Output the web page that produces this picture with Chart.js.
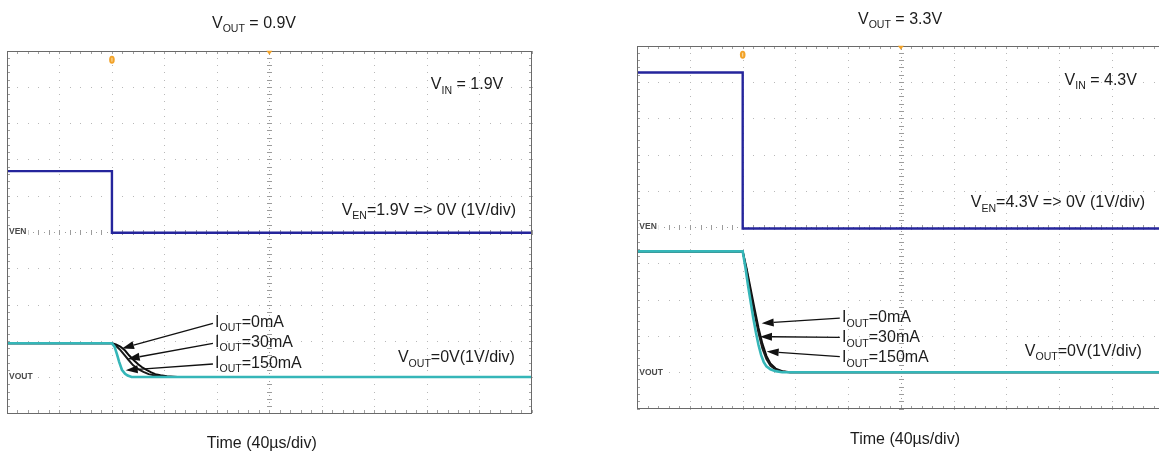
<!DOCTYPE html>
<html><head><meta charset="utf-8">
<script src="https://cdn.jsdelivr.net/npm/chart.js@4.4.0/dist/chart.umd.min.js"></script>
<style>
html,body{margin:0;padding:0;width:1159px;height:455px;overflow:hidden;background:#fff;}
.wrap{position:absolute;top:0;height:455px;width:560px;}
#wrapL{left:0;}
#wrapR{left:620px;}
</style></head><body>
<div class="wrap" id="wrapL"><canvas id="cL" width="560" height="455"></canvas></div>
<div class="wrap" id="wrapR"><canvas id="cR" width="560" height="455"></canvas></div>
<script>
// ---------- DATA (time in µs, 40 µs/div; voltages in V, 1 V/div) ----------
// Left panel: VOUT = 0.9V, VIN = 1.9V
const L_venT   = [0, 80, 80, 400];
const L_venV   = [1.68, 1.68, -0.02, -0.02];
const L_out0T  = [0, 80, 83, 86.4, 90, 93, 96.5, 100, 103, 106.7, 110, 113, 117, 122, 130, 400];
const L_out0V  = [0.93, 0.93, 0.90, 0.84, 0.73, 0.60, 0.47, 0.35, 0.27, 0.19, 0.13, 0.08, 0.05, 0.02, 0, 0];
const L_out30T = [0, 80, 83, 86, 89, 92.7, 96, 100, 104, 108, 113, 120, 400];
const L_out30V = [0.93, 0.93, 0.86, 0.76, 0.63, 0.47, 0.33, 0.22, 0.14, 0.08, 0.04, 0, 0];
const L_out150T = [0, 80, 82, 83.8, 85.5, 87.6, 90, 92, 95, 400];
const L_out150V = [0.93, 0.93, 0.84, 0.63, 0.42, 0.20, 0.09, 0.04, 0, 0];

// Right panel: VOUT = 3.3V, VIN = 4.3V
const R_venT   = [0, 80, 80, 400];
const R_venV   = [4.26, 4.26, -0.04, -0.04];
const R_out0T  = [0, 80, 83, 86, 89, 92, 95, 98, 101, 105, 110, 116, 400];
const R_out0V  = [3.33, 3.33, 2.85, 2.30, 1.75, 1.22, 0.78, 0.45, 0.24, 0.10, 0.03, 0, 0];
const R_out30T = [0, 80, 83, 86, 89, 92, 95, 98, 101, 105, 110, 115, 400];
const R_out30V = [3.33, 3.33, 2.80, 2.20, 1.62, 1.08, 0.65, 0.36, 0.18, 0.07, 0.02, 0, 0];
const R_out150T = [0, 80, 82, 84, 86, 88, 90, 92, 94, 96, 98, 101, 105, 110, 400];
const R_out150V = [3.33, 3.33, 2.90, 2.40, 1.95, 1.50, 1.10, 0.75, 0.47, 0.28, 0.16, 0.08, 0.03, 0, 0];

const venGroundDiv = 0;    // VEN ground marker (divisions)
const voutGroundDiv = -4;  // VOUT ground marker (divisions)

// ---------- RENDERING ----------
const FONT = '"Liberation Sans", Arial, Helvetica, sans-serif';

function xy(t, v, off) { return t.map((tt, i) => ({x: tt, y: v[i] + off})); }

function parseRich(s) {
  const out = []; const re = /_\{([^}]*)\}/g; let last = 0, m;
  while ((m = re.exec(s))) {
    if (m.index > last) out.push({t: s.slice(last, m.index), sub: false});
    out.push({t: m[1], sub: true}); last = re.lastIndex;
  }
  if (last < s.length) out.push({t: s.slice(last), sub: false});
  return out;
}
function richText(ctx, x, y, str, size, align) {
  const segs = parseRich(str);
  const sub = size * 0.66;
  let w = 0;
  const parts = segs.map(s => { ctx.font = (s.sub ? sub : size) + 'px ' + FONT; const m = ctx.measureText(s.t).width; w += m; return {s, m}; });
  let cx = align === 'right' ? x - w : align === 'center' ? x - w / 2 : x;
  ctx.textBaseline = 'alphabetic'; ctx.textAlign = 'left';
  for (const p of parts) {
    ctx.font = (p.s.sub ? sub : size) + 'px ' + FONT;
    ctx.fillText(p.s.t, cx, p.s.sub ? y + size * 0.28 : y);
    cx += p.m;
  }
}

const scopePlugin = {
  id: 'scope',
  beforeDatasetsDraw(chart, args, o) {
    const {ctx, chartArea: a, scales: {x, y}} = chart;
    const X = v => Math.round(x.getPixelForValue(v));
    const Y = v => Math.round(y.getPixelForValue(v));
    ctx.save();
    ctx.fillStyle = '#b8b8b8';
    for (let i = 1; i < 10; i++) {
      if (i === 5) continue;
      for (let k = -25; k <= 25; k++) ctx.fillRect(X(i * 40), Y(k * 0.2), 1, 1);
    }
    for (let j = -4; j <= 4; j++) {
      if (j === 0) continue;
      for (let k = 0; k <= 50; k++) ctx.fillRect(X(k * 8), Y(j), 1, 1);
    }
    // centre graticule with minor ticks
    ctx.fillStyle = '#9c9c9c';
    const cx = X(200), cy = Y(0);
    for (let k = -25; k <= 25; k++) { ctx.fillRect(cx - 2, Y(k * 0.2), 5, 1); }
    for (let k = -50; k <= 50; k++) ctx.fillRect(cx, Y(k * 0.1), 1, 1);
    for (let k = 0; k <= 50; k++) { ctx.fillRect(X(k * 8), cy - 2, 1, 5); }
    for (let k = 0; k <= 100; k++) ctx.fillRect(X(k * 4), cy, 1, 1);
    // edge ticks
    ctx.fillStyle = '#a0a0a0';
    for (let k = 0; k <= 50; k++) { ctx.fillRect(X(k * 8), Math.round(a.top), 1, 3); ctx.fillRect(X(k * 8), Math.round(a.bottom) - 3, 1, 3); }
    for (let k = -25; k <= 25; k++) { ctx.fillRect(Math.round(a.left), Y(k * 0.2), 3, 1); ctx.fillRect(Math.round(a.right) - 3, Y(k * 0.2), 3, 1); }
    // channel ground labels
    ctx.font = 'bold 8.5px ' + FONT; ctx.textBaseline = 'middle'; ctx.textAlign = 'left';
    for (const l of o.labels) {
      const ly = y.getPixelForValue(l.y);
      const w = ctx.measureText(l.text).width;
      ctx.fillStyle = '#fff'; ctx.fillRect(a.left + 1, ly - 5, w + 3, 10);
      ctx.fillStyle = '#4a4a4a'; ctx.fillText(l.text, a.left + 2, ly);
    }
    ctx.restore();
  },
  afterDatasetsDraw(chart, args, o) {
    const {ctx, chartArea: a, scales: {x, y}} = chart;
    const P = (vx, vy) => [x.getPixelForValue(vx), y.getPixelForValue(vy)];
    ctx.save();
    // frame
    ctx.strokeStyle = '#6a6a6a'; ctx.lineWidth = 1;
    ctx.strokeRect(Math.round(a.left) + 0.5, Math.round(a.top) + 0.5, Math.round(a.right - a.left) - 1, Math.round(a.bottom - a.top) - 1);
    // trigger markers
    const tx = x.getPixelForValue(o.trigger);
    ctx.fillStyle = '#f2a228';
    ctx.beginPath(); ctx.ellipse(tx, a.top + 9, 2.8, 4, 0, 0, Math.PI * 2); ctx.fill();
    ctx.fillStyle = '#fbe2b0'; ctx.fillRect(tx - 0.5, a.top + 7, 1, 4);
    const mx = x.getPixelForValue(200);
    ctx.fillStyle = '#f2a228';
    ctx.beginPath(); ctx.moveTo(mx - 3, a.top); ctx.lineTo(mx + 3, a.top); ctx.lineTo(mx, a.top + 4); ctx.closePath(); ctx.fill();
    // texts
    ctx.fillStyle = '#1c1c1c';
    for (const t of o.texts) { const [px, py] = P(t.x, t.y); richText(ctx, px, py, t.text, t.size || 16, t.align); }
    // arrows
    ctx.strokeStyle = '#111'; ctx.fillStyle = '#111'; ctx.lineWidth = 1.3;
    for (const ar of o.arrows) {
      const [x1, y1] = P(ar.from[0], ar.from[1]);
      const [x2, y2] = P(ar.to[0], ar.to[1]);
      const ang = Math.atan2(y2 - y1, x2 - x1);
      const L = 12, W = 4;
      const bx = x2 - L * Math.cos(ang), by = y2 - L * Math.sin(ang);
      ctx.beginPath(); ctx.moveTo(x1, y1); ctx.lineTo(bx, by); ctx.stroke();
      ctx.beginPath(); ctx.moveTo(x2, y2);
      ctx.lineTo(bx + W * Math.sin(ang), by - W * Math.cos(ang));
      ctx.lineTo(bx - W * Math.sin(ang), by + W * Math.cos(ang));
      ctx.closePath(); ctx.fill();
    }
    ctx.restore();
  }
};

function makeChart(id, d, pad, scope) {
  return new Chart(document.getElementById(id), {
    type: 'line',
    data: { datasets: [
      { label: 'IOUT=150mA', data: xy(d.o150T, d.o150V, voutGroundDiv), borderColor: '#35b6b8', borderWidth: 2.6 },
      { label: 'IOUT=30mA', data: xy(d.o30T, d.o30V, voutGroundDiv), borderColor: '#1a1a1a', borderWidth: 2 },
      { label: 'IOUT=0mA', data: xy(d.o0T, d.o0V, voutGroundDiv), borderColor: '#0d0d0d', borderWidth: 2 },
      { label: 'VEN', data: xy(d.venT, d.venV, venGroundDiv), borderColor: '#25259c', borderWidth: 2.4 }
    ]},
    options: {
      responsive: false, animation: false, devicePixelRatio: 1,
      layout: { padding: pad },
      elements: { point: { radius: 0 }, line: { tension: 0, fill: false } },
      scales: {
        x: { type: 'linear', min: 0, max: 400, display: false },
        y: { type: 'linear', min: -5, max: 5, display: false }
      },
      plugins: { legend: { display: false }, tooltip: { enabled: false }, scope: scope }
    },
    plugins: [scopePlugin]
  });
}

makeChart('cL',
  { venT: L_venT, venV: L_venV, o0T: L_out0T, o0V: L_out0V, o30T: L_out30T, o30V: L_out30V, o150T: L_out150T, o150V: L_out150V },
  { left: 7, right: 28.3, top: 50.7, bottom: 41.7 },
  {
    trigger: 80,
    labels: [{ text: 'VEN', y: venGroundDiv }, { text: 'VOUT', y: voutGroundDiv }],
    texts: [
      { text: 'V_{OUT} = 0.9V', x: 188.3, y: 5.63, align: 'center' },
      { text: 'Time (40µs/div)', x: 194.2, y: -5.97, align: 'center' },
      { text: 'V_{IN} = 1.9V', x: 378.3, y: 3.94, align: 'right' },
      { text: 'V_{EN}=1.9V => 0V (1V/div)', x: 388, y: 0.47, align: 'right' },
      { text: 'V_{OUT}=0V(1V/div)', x: 387.2, y: -3.59, align: 'right' },
      { text: 'I_{OUT}=0mA', x: 158.6, y: -2.62, align: 'left' },
      { text: 'I_{OUT}=30mA', x: 158.6, y: -3.17, align: 'left' },
      { text: 'I_{OUT}=150mA', x: 158.6, y: -3.75, align: 'left' }
    ],
    arrows: [
      { from: [157, -2.52], to: [87.7, -3.21] },
      { from: [157, -3.07], to: [92, -3.5] },
      { from: [157, -3.64], to: [90.5, -3.81] }
    ]
  });

makeChart('cR',
  { venT: R_venT, venV: R_venV, o0T: R_out0T, o0V: R_out0V, o30T: R_out30T, o30V: R_out30V, o150T: R_out150T, o150V: R_out150V },
  { left: 17.3, right: 15.7, top: 45.7, bottom: 46.5 },
  {
    trigger: 80,
    labels: [{ text: 'VEN', y: venGroundDiv }, { text: 'VOUT', y: voutGroundDiv }],
    texts: [
      { text: 'V_{OUT} = 3.3V', x: 199.4, y: 5.6, align: 'center' },
      { text: 'Time (40µs/div)', x: 203.2, y: -5.98, align: 'center' },
      { text: 'V_{IN} = 4.3V', x: 379.2, y: 3.92, align: 'right' },
      { text: 'V_{EN}=4.3V => 0V (1V/div)', x: 385.4, y: 0.55, align: 'right' },
      { text: 'V_{OUT}=0V(1V/div)', x: 382.9, y: -3.55, align: 'right' },
      { text: 'I_{OUT}=0mA', x: 155.4, y: -2.62, align: 'left' },
      { text: 'I_{OUT}=30mA', x: 155.4, y: -3.17, align: 'left' },
      { text: 'I_{OUT}=150mA', x: 155.4, y: -3.72, align: 'left' }
    ],
    arrows: [
      { from: [153.7, -2.51], to: [94.4, -2.65] },
      { from: [153.7, -3.04], to: [93.1, -3.02] },
      { from: [153.7, -3.57], to: [98.2, -3.43] }
    ]
  });
</script>
</body></html>
